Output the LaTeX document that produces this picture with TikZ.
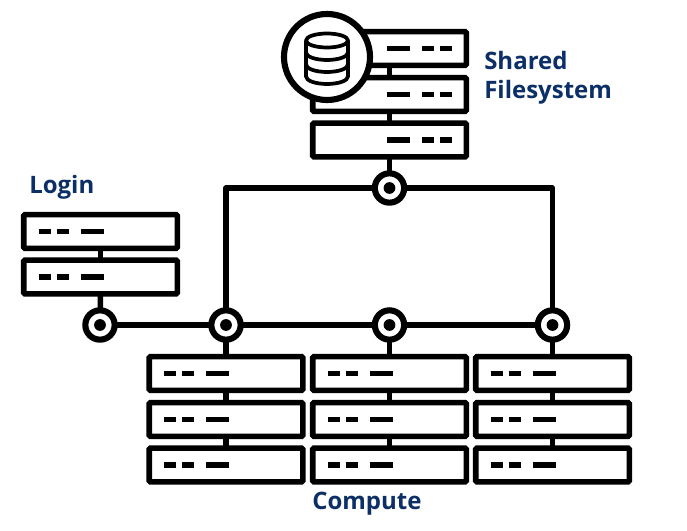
\documentclass[tikz,border=0pt]{standalone}
\usepackage{fontspec}
\setmainfont{Open Sans}
\usetikzlibrary{calc}
\definecolor{navy}{HTML}{0B2F66}
\tikzset{
  srv/.style={draw=black,line width=4.2pt,fill=white,rounded corners=1pt,inner sep=0pt,outer sep=0pt,minimum width=115.2pt,minimum height=25.4pt},
  hub/.style={circle,draw=black,fill=white,line width=4.6pt,inner sep=0pt,outer sep=0pt,minimum size=22pt},
  hubdot/.style={circle,fill=black,inner sep=0pt,minimum size=8.8pt},
  wire/.style={draw=black,line width=4.1pt},
  lbl/.style={text=navy,font=\bfseries\fontsize{18pt}{22pt}\selectfont,inner sep=0pt,align=left},
  dashb/.style={line width=4pt}
}
% name, x, y; dashes at the left
\newcommand{\srvL}[3]{\node[srv] (#1) at (#2,#3) {};
  \draw[dashb] ($(#1.center)+(-62,0)$) -- +(12,0) ($(#1.center)+(-44,0)$) -- +(12,0) ($(#1.center)+(-20,0)$) -- +(23,0);}
% dashes at the right
\newcommand{\srvR}[3]{\node[srv] (#1) at (#2,#3) {};
  \draw[dashb] ($(#1.center)+(-2.5,0)$) -- +(23,0) ($(#1.center)+(32.5,0)$) -- +(12,0) ($(#1.center)+(50.5,0)$) -- +(12,0);}
\begin{document}
\begin{tikzpicture}[x=0.75pt,y=-0.75pt]
\useasboundingbox (0,0) rectangle (687,531);
% hubs' coordinates
\coordinate (hT) at (389.5,188);
\coordinate (h0) at (100,325);
\coordinate (h1) at (226,325);
\coordinate (h2) at (389.5,325);
\coordinate (h3) at (552.5,325);
% servers
\srvR{fa}{389.5}{48.5}
\srvR{fb}{389.5}{94.5}
\srvR{fc}{389.5}{140}
\srvL{la}{100.5}{231.5}
\srvL{lb}{100.5}{277}
\foreach \c/\x in {a/226,b/389.5,c/552.5}{
  \srvL{c\c1}{\x}{373.5}
  \srvL{c\c2}{\x}{419.5}
  \srvL{c\c3}{\x}{465}
}
% wires
\draw[wire] (fa.south) -- (fb.north);
\draw[wire] (fb.south) -- (fc.north);
\draw[wire] (fc.south) -- (hT);
\draw[wire] (la.south) -- (lb.north);
\draw[wire] (lb.south) -- (h0);
\draw[wire] (h0) -- (h3);
\draw[wire,line join=round] (h1) |- (hT) -| (h3);
\foreach \c/\h in {a/h1,b/h2,c/h3}{
  \draw[wire] (\h) -- (c\c1.north);
  \draw[wire] (c\c1.south) -- (c\c2.north);
  \draw[wire] (c\c2.south) -- (c\c3.north);
}
% hubs
\foreach \h in {hT,h0,h1,h2,h3}{
  \node[hub] at (\h) {};
  \node[hubdot] at (\h) {};
}
% database badge
\node[circle,draw=black,fill=white,line width=4.6pt,minimum size=64.5pt,inner sep=0pt] (db) at (327,57) {};
\begin{scope}[shift={(db.center)},line width=2.8pt,line join=round]
  \draw[fill=white] (-21,-16.5) -- (-21,19.5) arc[start angle=180,end angle=0,x radius=21,y radius=7.5] -- (21,-16.5);
  \draw[fill=white] (0,-16.5) ellipse[x radius=21,y radius=7];
  \draw (-21,-4.5) arc[start angle=180,end angle=0,x radius=21,y radius=7.5];
  \draw (-21,7.5) arc[start angle=180,end angle=0,x radius=21,y radius=7.5];
\end{scope}
% labels
\node[lbl,anchor=base west] (shared) at (484,70) {Shared};
\node[lbl,anchor=base west] (files) at (484,98.5) {Filesystem};
\node[lbl,anchor=base west] (login) at (29,194) {Login};
\node[lbl,anchor=base west] (compute) at (312,510) {Compute};
\end{tikzpicture}
\end{document}
